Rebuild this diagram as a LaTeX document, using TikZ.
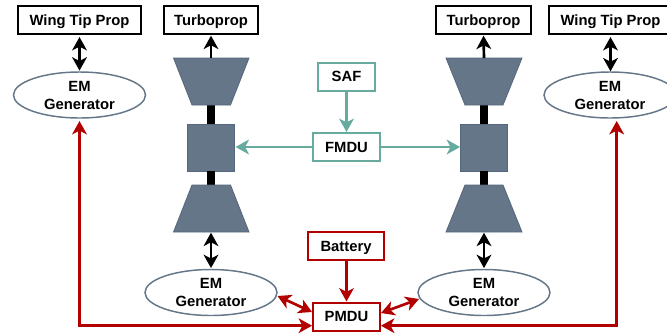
\documentclass[tikz,border=0pt]{standalone}
\usepackage{fontspec}
\setmainfont{Liberation Sans}
\usetikzlibrary{arrows.meta,shapes.geometric}
\definecolor{teal}{HTML}{67AB9F}
\definecolor{dred}{HTML}{B20000}
\definecolor{slate}{HTML}{647687}
\definecolor{slateb}{HTML}{55677A}
\tikzset{
  lbl/.style={font=\fontsize{11.1}{13.5}\selectfont\bfseries,align=center,inner sep=0pt,text=black},
  sqbox/.style={lbl,draw,rectangle,line width=1.5pt,minimum width=#1*0.75pt,minimum height=28*0.75pt,text height=10.3pt,text depth=2.5pt},
  blackbox/.style={sqbox=#1,draw=black},
  tealbox/.style={sqbox=#1,draw=teal},
  redbox/.style={sqbox=#1,draw=dred},
  gen/.style={lbl,draw=slate,ellipse,line width=1.1pt,minimum width=132*0.75pt,minimum height=46*0.75pt,fill=white,text depth=0pt},
  core/.style={rectangle,fill=slate,draw=slateb,line width=0.6pt,minimum width=47*0.75pt,minimum height=47*0.75pt,inner sep=0pt},
  turb/.style={fill=slate,draw=slateb,line width=0.6pt,line join=miter},
  shaft/.style={line width=5.6pt,black},
  tip/.style={-{Stealth[length=10pt,width=11pt,inset=2.8pt]}},
  tips/.style={{Stealth[length=10pt,width=11pt,inset=2.8pt]}-{Stealth[length=10pt,width=11pt,inset=2.8pt]}},
  mech/.style={line width=2pt,black},
  fuel/.style={line width=2pt,teal},
  elec/.style={line width=2pt,dred},
}
\begin{document}
\begin{tikzpicture}[x=0.75pt,y=-0.75pt]
\useasboundingbox (0,0) rectangle (667,333);
% propulsors
\node[blackbox=123] (wl) at (79.5,20) {Wing Tip Prop};
\node[blackbox=94.5] (tl) at (211,20) {Turboprop};
\node[blackbox=94.5] (tr) at (483.5,20) {Turboprop};
\node[blackbox=123] (wr) at (610.5,20) {Wing Tip Prop};
% generators
\node[gen] (gl) at (79.5,95) {EM\\Generator};
\node[gen] (gr) at (610,95) {EM\\Generator};
\node[gen] (gbl) at (211,292.5) {EM\\Generator};
\node[gen] (gbr) at (484,292.5) {EM\\Generator};
% gas turbines
\node[core] (cl) at (211,147.5) {};
\node[core] (cr) at (484,147.5) {};
\coordinate (ult) at (211,58);
\coordinate (urt) at (484,58);
\coordinate (llb) at (211,232);
\coordinate (lrb) at (484,232);
\coordinate (ulb) at (211,105);
\coordinate (urb) at (484,105);
\coordinate (llt) at (211,185);
\coordinate (lrt) at (484,185);
\draw[shaft] (ulb) -- (cl.north);
\draw[shaft] (cl.south) -- (llt);
\draw[shaft] (urb) -- (cr.north);
\draw[shaft] (cr.south) -- (lrt);
\draw[turb] (173.5,58) -- (249,58) -- (230.5,105) -- (192,105) -- cycle;
\draw[turb] (192,185) -- (230.5,185) -- (249,232) -- (173.5,232) -- cycle;
\draw[turb] (446,58) -- (522,58) -- (503,105) -- (465,105) -- cycle;
\draw[turb] (465,185) -- (503,185) -- (522,232) -- (446,232) -- cycle;
% distribution
\node[tealbox=57] (saf) at (346.5,76.5) {SAF};
\node[tealbox=66.5] (fmdu) at (346.5,147) {FMDU};
\node[redbox=76] (bat) at (346,246) {Battery};
\node[redbox=67] (pmdu) at (346.5,316.5) {PMDU};
\coordinate (railw) at (312,325.7);
\coordinate (raile) at (381,325.7);
\coordinate (riser) at (616.7,121);
\coordinate (gltip) at (79.5,121);
% mechanical
\draw[mech,tips,shorten <=1.5pt,shorten >=0.5pt] (wl.south) -- (gl.north);
\draw[mech,tips,shorten <=1.5pt,shorten >=0.5pt] (wr.south) -- (610.5,72);
\draw[mech,tip,shorten >=0.5pt] (ult) -- (tl.south);
\draw[mech,tip,shorten >=0.5pt] (urt) -- (tr.south);
\draw[mech,tips,shorten <=0.5pt,shorten >=0.5pt] (llb) -- (gbl.north);
\draw[mech,tips,shorten <=0.5pt,shorten >=0.5pt] (lrb) -- (gbr.north);
% fuel
\draw[fuel,tip] (saf.south) -- (fmdu.north);
\draw[fuel,tip,shorten >=0.5pt] (fmdu.west) -- (cl.east |- fmdu.west);
\draw[fuel,tip] (fmdu.east) -- (cr.west |- fmdu.east);
% electric
\draw[elec,tip] (bat.south -| pmdu.north) -- (pmdu.north);
\draw[elec,tips] (277.5,296) -- (312,312);
\draw[elec,tips] (381,313) -- (419,299);
\draw[elec,tips,line join=miter] (gltip) |- (railw);
\draw[elec,tips,line join=miter] (riser) |- (raile);
\end{tikzpicture}
\end{document}
